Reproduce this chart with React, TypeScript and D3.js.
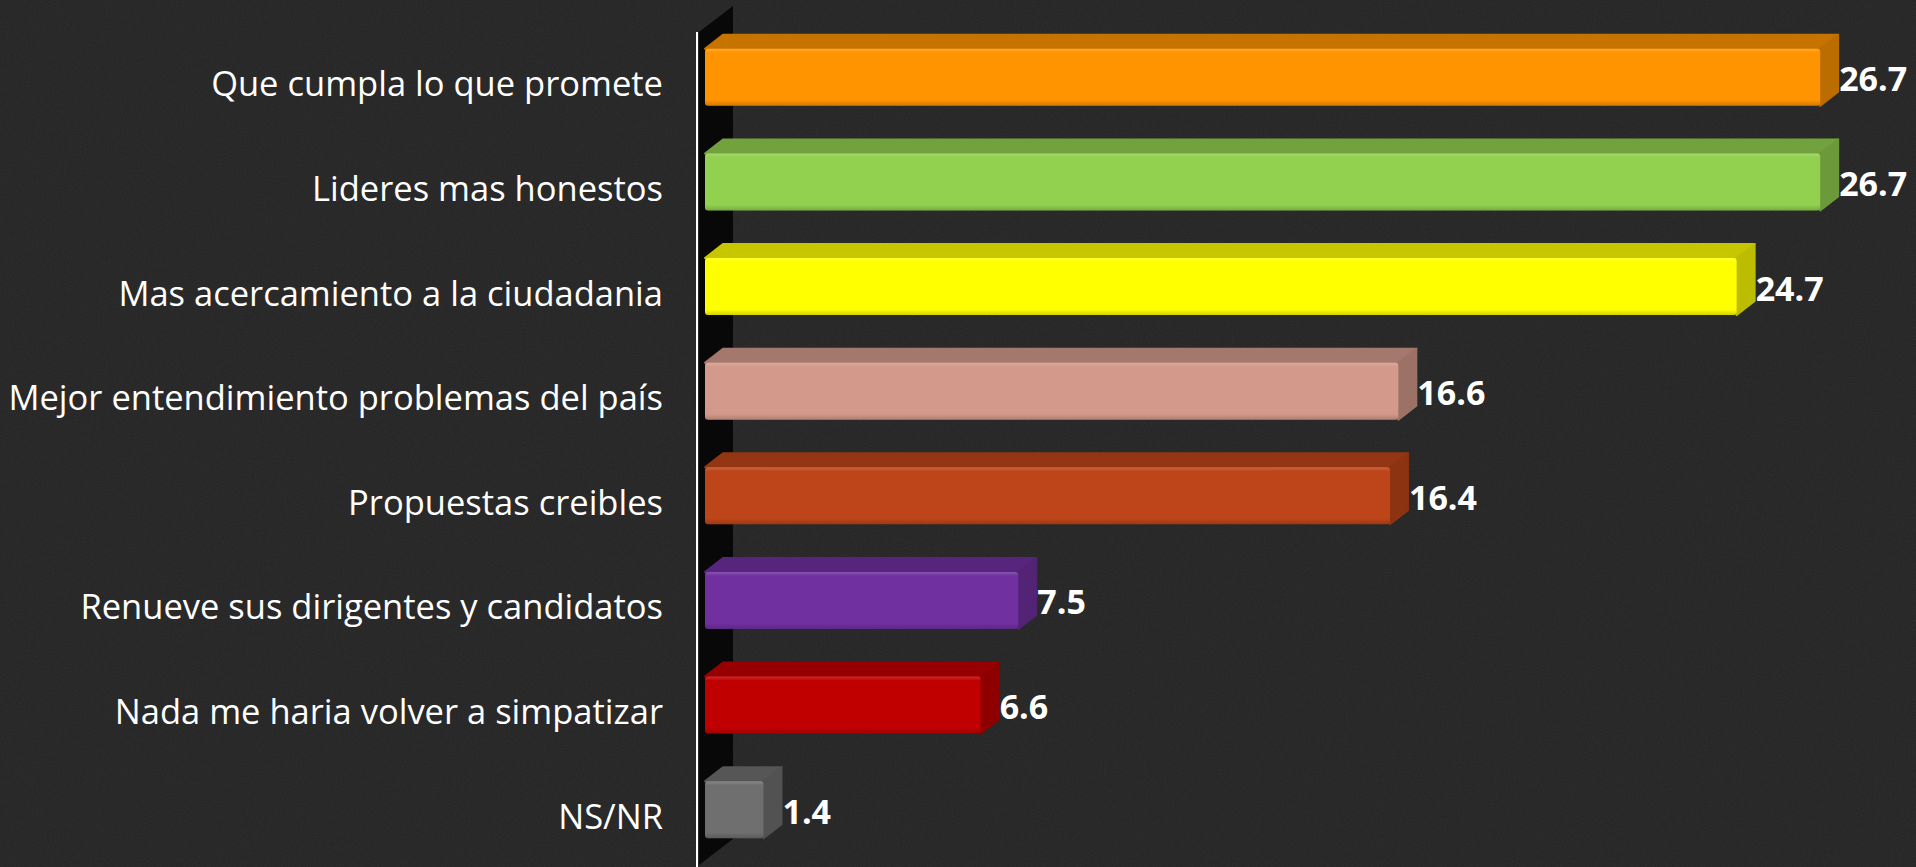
import React from "react";
import * as d3 from "d3";

const categories = [
  "Que cumpla lo que promete",
  "Lideres mas honestos",
  "Mas acercamiento a la ciudadania",
  "Mejor entendimiento problemas del país",
  "Propuestas creibles",
  "Renueve sus dirigentes y candidatos",
  "Nada me haria volver a simpatizar",
  "NS/NR",
];
const values = [26.7, 26.7, 24.7, 16.6, 16.4, 7.5, 6.6, 1.4];
const barColors = [
  "#FF9300",
  "#92D050",
  "#FFFF00",
  "#D39A8B",
  "#BE4519",
  "#7030A0",
  "#C00000",
  "#6F6F6F",
];

const W = 1916;
const H = 867;
const DX = 18;
const DY = -14;

export default function App() {
  const x = d3.scaleLinear().domain([0, 30]).range([705, 1958]);
  const y = d3
    .scaleBand<string>()
    .domain(categories)
    .range([25, 862])
    .paddingInner(0.455)
    .paddingOuter(0.2275);
  const bw = y.bandwidth();

  const wall = [
    [699, 32],
    [733, 6],
    [733, 839],
    [699, 865],
  ];

  return (
    <svg
      width={W}
      height={H}
      style={{ position: "absolute", left: 0, top: 0, display: "block" }}
    >
      <defs>
        <filter id="noise" x="0" y="0" width="100%" height="100%">
          <feTurbulence type="fractalNoise" baseFrequency="0.9" numOctaves="2" seed="3" />
          <feColorMatrix type="saturate" values="0" />
        </filter>
        <linearGradient id="bevel" x1="0" y1="0" x2="0" y2="1">
          <stop offset="0" stopColor="#fff" stopOpacity="0.18" />
          <stop offset="0.07" stopColor="#fff" stopOpacity="0" />
          <stop offset="0.9" stopColor="#000" stopOpacity="0" />
          <stop offset="1" stopColor="#000" stopOpacity="0.18" />
        </linearGradient>
      </defs>
      <rect width={W} height={H} fill="#242424" />
      <rect width={W} height={H} filter="url(#noise)" opacity={0.07} />
      <polygon points={wall.map((p) => p.join(",")).join(" ")} fill="#080808" />
      <line x1={697} x2={697} y1={32} y2={H} stroke="#ffffff" strokeWidth={2} />
      {categories.map((c, i) => {
        const v = values[i];
        const x0 = x(0);
        const x1 = x(v);
        const top = y(c) as number;
        const bot = top + bw;
        const cy = top + bw / 2;
        const base = barColors[i];
        const topC = d3.color(base)!.darker(0.7).formatHex();
        const sideC = d3.color(base)!.darker(0.85).formatHex();
        const topPts = [
          [x0, top],
          [x0 + DX, top + DY],
          [x1 + DX, top + DY],
          [x1, top],
        ];
        const sidePts = [
          [x1, top],
          [x1 + DX, top + DY],
          [x1 + DX, bot + DY],
          [x1, bot],
        ];
        return (
          <g key={c}>
            <polygon
              points={topPts.map((p) => p.join(",")).join(" ")}
              fill={topC}
              stroke={topC}
              strokeWidth={2}
              strokeLinejoin="round"
            />
            <polygon
              points={sidePts.map((p) => p.join(",")).join(" ")}
              fill={sideC}
              stroke={sideC}
              strokeWidth={2}
              strokeLinejoin="round"
            />
            <rect x={x0} y={top} width={x1 - x0} height={bw} rx={3} fill={base} />
            <rect x={x0} y={top} width={x1 - x0} height={bw} rx={3} fill="url(#bevel)" />
            <text
              x={663}
              y={cy + 19}
              textAnchor="end"
              fill="#ffffff"
              fontFamily="'Open Sans', sans-serif"
              fontSize={34.5}
            >
              {c}
            </text>
            <text
              x={x1 + DX + 1}
              y={cy + 14}
              fill="#ffffff"
              fontFamily="'Open Sans', sans-serif"
              fontWeight="bold"
              fontSize={34}
            >
              {d3.format(".1f")(v)}
            </text>
          </g>
        );
      })}
    </svg>
  );
}
